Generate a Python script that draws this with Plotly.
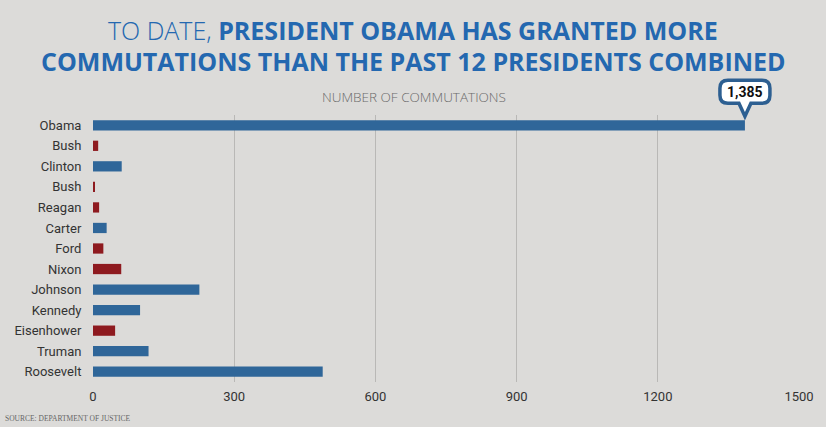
import plotly.graph_objects as go

presidents = ["Obama", "Bush", "Clinton", "Bush", "Reagan", "Carter", "Ford",
              "Nixon", "Johnson", "Kennedy", "Eisenhower", "Truman", "Roosevelt"]
commutations = [1385, 11, 61, 3, 13, 29, 22, 60, 226, 100, 47, 118, 488]
party = ["D", "R", "D", "R", "R", "D", "R", "R", "D", "D", "R", "D", "D"]
x_ticks = [0, 300, 600, 900, 1200, 1500]

BG = "#dcdbd9"
BLUE = "#2f6699"
RED = "#8e1a1f"
TITLE_BLUE = "#2468b0"
colors = [BLUE if p == "D" else RED for p in party]
positions = list(range(len(presidents)))

X_RANGE = [0, 1502]
Y_RANGE = [len(presidents) - 0.5, -0.5]

fig = go.Figure()
fig.add_trace(go.Bar(
    x=commutations, y=positions, orientation="h",
    marker=dict(color=colors, line=dict(width=0)),
    width=0.5, hoverinfo="x"
))

W, H = 826, 427
ML, MR, MT, MB = 93, 26, 115, 45
PW, PH = W - ML - MR, H - MT - MB

fig.update_layout(
    width=W, height=H,
    margin=dict(l=ML, r=MR, t=MT, b=MB, autoexpand=False),
    paper_bgcolor=BG, plot_bgcolor=BG,
    showlegend=False,
    xaxis=dict(range=X_RANGE, tickvals=x_ticks, showgrid=True, automargin=False,
               gridcolor="#b9b8b6", gridwidth=1, zeroline=True,
               zerolinecolor=BG, showline=False,
               ticks="outside", ticklen=2, tickcolor="rgba(0,0,0,0)",
               tickfont=dict(family="Roboto", size=13, color="#333333")),
    yaxis=dict(range=Y_RANGE, tickvals=positions, ticktext=presidents,
               showgrid=False, zeroline=False, showline=False, automargin=False,
               ticks="outside", ticklen=8, tickcolor="rgba(0,0,0,0)",
               tickfont=dict(family="Roboto", size=13, color="#333333")),
)

cx = (413 - ML) / PW

def py(pix):
    return 1 + (MT - pix) / PH

fig.add_annotation(
    xref="paper", yref="paper", x=cx, y=py(30),
    yanchor="middle", xanchor="center", showarrow=False,
    text="TO DATE, <b>PRESIDENT OBAMA HAS GRANTED MORE</b>",
    font=dict(family="Open Sans", size=25, color=TITLE_BLUE, weight=300),
)
fig.add_annotation(
    xref="paper", yref="paper", x=cx, y=py(61),
    yanchor="middle", xanchor="center", showarrow=False,
    text="<b>COMMUTATIONS THAN THE PAST 12 PRESIDENTS COMBINED</b>",
    font=dict(family="Open Sans", size=25, color=TITLE_BLUE),
)
fig.add_annotation(
    xref="paper", yref="paper", x=(414 - ML) / PW, y=py(97),
    yanchor="middle", xanchor="center", showarrow=False,
    text="NUMBER OF COMMUTATIONS",
    font=dict(family="Open Sans", size=13.5, color="#6a6a6a", weight=300),
)
fig.add_annotation(
    xref="paper", yref="paper", x=(3 - ML) / PW, y=py(418),
    yanchor="middle", xanchor="left", showarrow=False,
    text="SOURCE: DEPARTMENT OF JUSTICE",
    font=dict(family="Liberation Sans Narrow", size=7.5, color="#666666"),
)

# callout for Obama's value (paper-referenced so it is not clipped)
top_val = commutations[0]
ax_frac = (top_val - X_RANGE[0]) / (X_RANGE[1] - X_RANGE[0])
ay_frac = (Y_RANGE[0] - positions[0]) / (Y_RANGE[0] - Y_RANGE[1])
fig.add_shape(
    type="path", xref="paper", yref="paper",
    xsizemode="pixel", ysizemode="pixel",
    xanchor=ax_frac, yanchor=ay_frac,
    path=("M -17,45 L 17,45 Q 25,45 25,37 L 25,30 Q 25,22 17,22 "
          "L 6,22 L 0,9 L -6,22 L -17,22 Q -25,22 -25,30 L -25,37 "
          "Q -25,45 -17,45 Z"),
    fillcolor="white", line=dict(color="#2d5f91", width=3.5),
    layer="above",
)
fig.add_annotation(
    x=top_val, y=positions[0], xref="x", yref="y", yshift=33.5,
    showarrow=False, text="<b>{:,}</b>".format(top_val),
    font=dict(family="Roboto", size=14, color="#111111"),
)

fig.write_html("out.html", config={"displayModeBar": False},
               post_script="document.body.style.margin='0';")
